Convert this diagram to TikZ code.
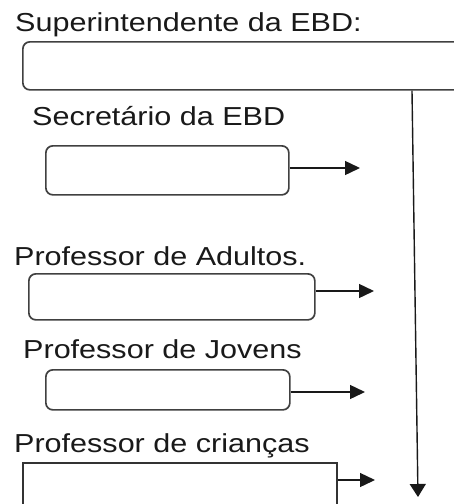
\documentclass[tikz,border=0pt]{standalone}
\usepackage{fontspec}
\setmainfont{Liberation Sans}
\usepackage{graphicx}
\usepackage{tikz}
\newcommand{\largo}[1]{\scalebox{1.175}[1]{#1}}
\usetikzlibrary{arrows.meta}
\tikzstyle{roundbox}=[rectangle, rounded corners=7pt, draw=black!75, line width=1.7pt, anchor=north west, inner sep=0pt]
\tikzstyle{squarebox}=[rectangle, draw=black!80, line width=1.7pt, anchor=north west, inner sep=0pt]
\tikzstyle{titletext}=[anchor=base west, inner sep=0pt, text=black!90, font=\fontsize{26}{30}\selectfont]
\tikzstyle{arrowline}=[-{Triangle[length=15pt,width=14pt]}, line width=1.4pt, draw=black!90]

\begin{document}
\begin{tikzpicture}[x=1pt,y=1pt]
\useasboundingbox (0,0) rectangle (454,-504);
\clip (0,0) rectangle (454,-504);

\node[titletext] (tsup) at (15,-31.5) {\largo{Superintendente da EBD:}};
\node[titletext] (tsec) at (32,-125) {\largo{Secretário da EBD}};
\node[titletext] (tadu) at (14,-265.5) {\largo{Professor de Adultos.}};
\node[titletext] (tjov) at (23,-358) {\largo{Professor de Jovens}};
\node[titletext] (tcri) at (14,-452) {\largo{Professor de crianças}};

\node[roundbox, minimum width=460pt, minimum height=48pt] (sup) at (22,-41) {};
\node[roundbox, minimum width=243pt, minimum height=49pt] (sec) at (45,-145) {};
\node[roundbox, minimum width=286pt, minimum height=46pt] (adu) at (28,-273) {};
\node[roundbox, minimum width=244pt, minimum height=40pt] (jov) at (45,-369) {};
\node[squarebox, minimum width=314pt, minimum height=70pt] (cri) at (22,-462) {};

\coordinate (secseta) at (360,-168);
\coordinate (aduseta) at (374,-291);
\coordinate (jovseta) at (365,-392);
\coordinate (criseta) at (375,-480);
\coordinate (supdesce) at (412,-89);
\coordinate (fundo) at (418,-497);

\draw[arrowline] (sec.east |- secseta) -- (secseta);
\draw[arrowline] (adu.east |- aduseta) -- (aduseta);
\draw[arrowline] (jov.east |- jovseta) -- (jovseta);
\draw[arrowline] (cri.east |- criseta) -- (criseta);
\draw[arrowline, -{Triangle[length=13pt,width=16pt]}] (sup.south -| supdesce) -- (fundo);

\end{tikzpicture}
\end{document}
